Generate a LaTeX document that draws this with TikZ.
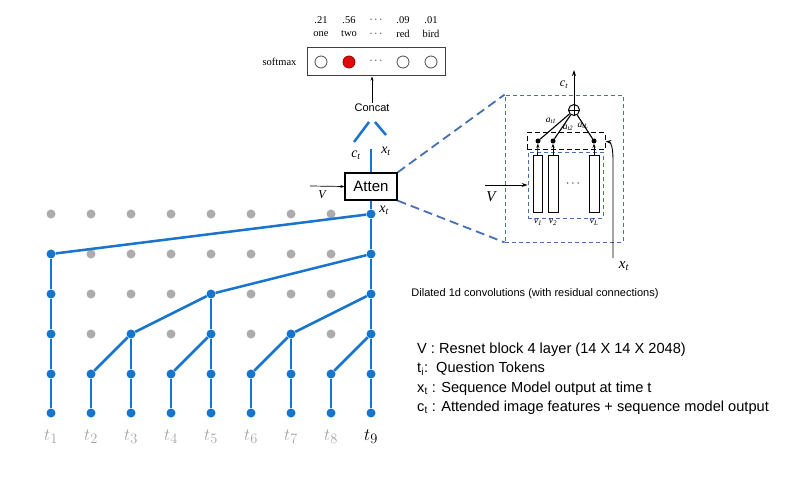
\documentclass[tikz,border=0pt]{standalone}
\usepackage{fontspec}
\setmainfont{Liberation Serif}
\setsansfont{Liberation Sans}
\usetikzlibrary{arrows.meta}
\definecolor{lblue}{RGB}{24,116,205}
\definecolor{dgrey}{RGB}{172,172,172}
\definecolor{dashblue}{RGB}{70,112,178}
\definecolor{tgrey}{RGB}{165,165,165}
\definecolor{sred}{RGB}{225,10,10}
\tikzset{
  bdot/.style={circle,fill=lblue,inner sep=0pt,minimum size=9pt},
  gdot/.style={circle,fill=dgrey,inner sep=0pt,minimum size=9pt},
  bline/.style={lblue,line width=2.5pt},
  bigdash/.style={dashblue,line width=1.8pt,dash pattern=on 9pt off 5pt},
  smalldash/.style={draw=dashblue,line width=0.8pt,dash pattern=on 4pt off 3pt},
  kdash/.style={draw=black,line width=1pt,dash pattern=on 5pt off 3pt},
  scirc/.style={circle,draw=black!70,line width=0.8pt,inner sep=0pt,minimum size=12pt},
  sertxt/.style={font=\fontsize{10.5}{11}\selectfont},
  ittxt/.style={font=\itshape\fontsize{14}{14}\selectfont},
  legtxt/.style={anchor=west,font=\sffamily\fontsize{14.6}{16}\selectfont,inner sep=0pt},
  tlab/.style={font=\fontsize{19}{20}\selectfont},
  vrect/.style={draw=black,line width=1pt,minimum width=9pt,minimum height=57pt,inner sep=0pt},
  kdot/.style={circle,fill=black,inner sep=0pt,minimum size=5pt},
  sarr/.style={-{Stealth[length=4pt,width=3pt]},line width=0.7pt}
}
\begin{document}
\begin{tikzpicture}[x=1pt,y=-1pt]
\useasboundingbox[fill=white] (0,0) rectangle (790,497);

% ---------- grid dots ----------
\foreach \c in {1,...,8} \node[gdot] (g-\c-0) at ({51+40*(\c-1)},214) {};
\foreach \c in {2,...,8} \node[gdot] (g-\c-1) at ({51+40*(\c-1)},254) {};
\foreach \c in {2,3,4,6,7,8} \node[gdot] (g-\c-2) at ({51+40*(\c-1)},294) {};
\foreach \c in {2,4,6,8} \node[gdot] (g-\c-3) at ({51+40*(\c-1)},334) {};
\node[bdot] (b-9-0) at (371,214) {};
\foreach \c in {1,9} \node[bdot] (b-\c-1) at ({51+40*(\c-1)},254) {};
\foreach \c in {1,5,9} \node[bdot] (b-\c-2) at ({51+40*(\c-1)},294) {};
\foreach \c in {1,3,5,7,9} \node[bdot] (b-\c-3) at ({51+40*(\c-1)},334) {};
\foreach \c in {1,...,9} \node[bdot] (b-\c-4) at ({51+40*(\c-1)},374) {};
\foreach \c in {1,...,9} \node[bdot] (b-\c-5) at ({51+40*(\c-1)},413) {};

% ---------- blue connections ----------
\draw[bline] (b-1-5) -- (b-1-4) -- (b-1-3) -- (b-1-2) -- (b-1-1);
\foreach \c in {2,4,6,8} \draw[bline] (b-\c-5) -- (b-\c-4);
\foreach \c in {3,7} \draw[bline] (b-\c-5) -- (b-\c-4) -- (b-\c-3);
\draw[bline] (b-5-5) -- (b-5-4) -- (b-5-3) -- (b-5-2);
\draw[bline] (b-9-5) -- (b-9-4) -- (b-9-3) -- (b-9-2) -- (b-9-1) -- (b-9-0);
\draw[bline] (b-2-4) -- (b-3-3);
\draw[bline] (b-4-4) -- (b-5-3);
\draw[bline] (b-6-4) -- (b-7-3);
\draw[bline] (b-8-4) -- (b-9-3);
\draw[bline] (b-3-3) -- (b-5-2);
\draw[bline] (b-7-3) -- (b-9-2);
\draw[bline] (b-5-2) -- (b-9-1);
\draw[bline] (b-1-1) -- (b-9-0);

% ---------- token labels ----------
\foreach \c in {1,...,8} \node[tlab,text=tgrey] (t\c) at ({51+40*(\c-1)},437) {$t_{\c}$};
\node[tlab,text=black] (t9) at (371,437) {$t_9$};

% ---------- Atten block ----------
\node[draw,line width=1.3pt,minimum width=52pt,minimum height=27pt,inner sep=0pt,
      font=\sffamily\fontsize{15}{15}\selectfont] (atten) at (371,186.5) {Atten};
\draw[bline] (b-9-0) -- (atten.south);
\coordinate (ctop) at (371,149);
\draw[bline] (atten.north) -- (ctop);
\coordinate (vatt) at (310,186);
\draw[sarr] (vatt) -- (atten.west);
\node[font=\itshape\fontsize{12}{12}\selectfont] (vlab) at (322,195) {V};
\node[ittxt] (xt1) at (384,210) {x\textsubscript{\itshape t}};
\node[ittxt] (ct1) at (356,155) {c\textsubscript{\itshape t}};
\node[ittxt] (xt2) at (386,151) {x\textsubscript{\itshape t}};

% ---------- Concat ----------
\node[font=\sffamily\fontsize{11}{12}\selectfont,inner sep=1pt] (concat) at (372,108) {Concat};
\coordinate (cl1) at (354,142); \coordinate (cl2) at (369,122);
\coordinate (cr1) at (375,122); \coordinate (cr2) at (386,135);
\draw[bline] (cl1) -- (cl2);
\draw[bline] (cr1) -- (cr2);

% ---------- softmax ----------
\node[draw=black!75,line width=1pt,minimum width=138pt,minimum height=28pt,inner sep=0pt] (smax) at (376,62) {};
\draw[sarr] (concat.north) -- (concat.north |- smax.south);
\node[sertxt,anchor=east] (smlab) at (300,62) {softmax};
\node[scirc] (s1) at (321,62) {};
\node[scirc,fill=sred,draw=red!60!black] (s2) at (349,62) {};
\node[sertxt] (s3) at (376,61) {$\cdots$};
\node[scirc] (s4) at (403,62) {};
\node[scirc] (s5) at (431,62) {};
\node[sertxt] (p1) at (321,20) {.21};  \node[sertxt] (w1) at (321,34) {one};
\node[sertxt] (p2) at (349,20) {.56};  \node[sertxt] (w2) at (349,34) {two};
\node[sertxt] (p3) at (376,20) {$\cdots$}; \node[sertxt] (w3) at (376,34) {$\cdots$};
\node[sertxt] (p4) at (403,20) {.09};  \node[sertxt] (w4) at (403,34) {red};
\node[sertxt] (p5) at (431,20) {.01};  \node[sertxt] (w5) at (431,34) {bird};

% ---------- inset ----------
\node[smalldash,minimum width=118pt,minimum height=147pt,inner sep=0pt] (inset) at (564,168.5) {};
\draw[bigdash] (atten.north east) -- (inset.north west);
\draw[bigdash] (atten.south east) -- (inset.south west);

\node[kdash,minimum width=78pt,minimum height=17pt,inner sep=0pt] (kbox) at (566,141.5) {};
\node[smalldash,minimum width=75pt,minimum height=66pt,inner sep=0pt] (vbox) at (565.5,185) {};

\node[circle,draw,line width=1pt,inner sep=0pt,minimum size=11pt] (plus) at (574,110) {};
\draw[line width=0.9pt] (plus.north) -- (plus.south) (plus.west) -- (plus.east);
\coordinate (ctarr) at (574,70);
\draw[-{Stealth[length=6pt,width=4pt]},line width=0.9pt] (plus.north) -- (ctarr);
\node[font=\itshape\fontsize{12}{12}\selectfont] (ct2) at (564,85) {c\textsubscript{\itshape t}};

\node[kdot] (d1) at (538,141) {};
\node[kdot] (d2) at (553,141) {};
\node[kdot] (d3) at (594,141) {};
\draw[line width=1.1pt] (d1) -- (plus);
\draw[line width=1.1pt] (d2) -- (plus);
\draw[line width=1.1pt] (d3) -- (plus);

\node[vrect] (r1) at (537.5,184.5) {};
\node[vrect,minimum width=10pt] (r2) at (553,184.5) {};
\node[vrect,minimum width=10pt] (r3) at (594,184.5) {};
\draw[sarr] (r1.north) -- (d1);
\draw[sarr] (r2.north) -- (d2);
\draw[sarr] (r3.north) -- (d3);
\node[font=\fontsize{12}{12}\selectfont] (vdots) at (573,184) {$\cdots$};

\node[font=\itshape\fontsize{10}{10}\selectfont] (v1) at (538,222) {v\textsubscript{1}};
\node[font=\itshape\fontsize{10}{10}\selectfont] (v2) at (553,222) {v\textsubscript{2}};
\node[font=\itshape\fontsize{10}{10}\selectfont] (vL) at (594,222) {v\textsubscript{L}};

\node[font=\itshape\fontsize{9.5}{10}\selectfont] (a1) at (551,121) {a\textsubscript{t1}};
\node[font=\itshape\fontsize{9.5}{10}\selectfont] (a2) at (568,128) {a\textsubscript{t2}};
\node[font=\itshape\fontsize{9.5}{10}\selectfont] (a3) at (583,126) {a\textsubscript{tL}};

\coordinate (vin) at (485,185);
\draw[-{Stealth[length=6pt,width=4pt]},line width=0.9pt] (vin) -- (vbox.west);
\node[font=\itshape\fontsize{15}{15}\selectfont] (vlab2) at (491,197) {V};

\coordinate (xin) at (613,258);
\draw[-{Stealth[length=6pt,width=4pt]},line width=0.9pt] (xin) -- (613,160) .. controls (613,148) and (611,142) .. (kbox.east);
\node[font=\itshape\fontsize{15}{15}\selectfont] (xt3) at (624,266) {x\textsubscript{\itshape t}};

% ---------- texts ----------
\node[font=\sffamily\fontsize{11}{12}\selectfont] (dil) at (535,294) {Dilated 1d convolutions (with residual connections)};

\node[legtxt] (l1) at (417,350) {V : Resnet block 4 layer (14 X 14 X 2048)};
\node[legtxt] (l2) at (417,369) {t\textsubscript{i}:\ \ Question Tokens};
\node[legtxt] (l3) at (417,389) {x\textsubscript{t} : Sequence Model output at time t};
\node[legtxt] (l4) at (417,408) {c\textsubscript{t} : Attended image features + sequence model output};
\end{tikzpicture}
\end{document}
